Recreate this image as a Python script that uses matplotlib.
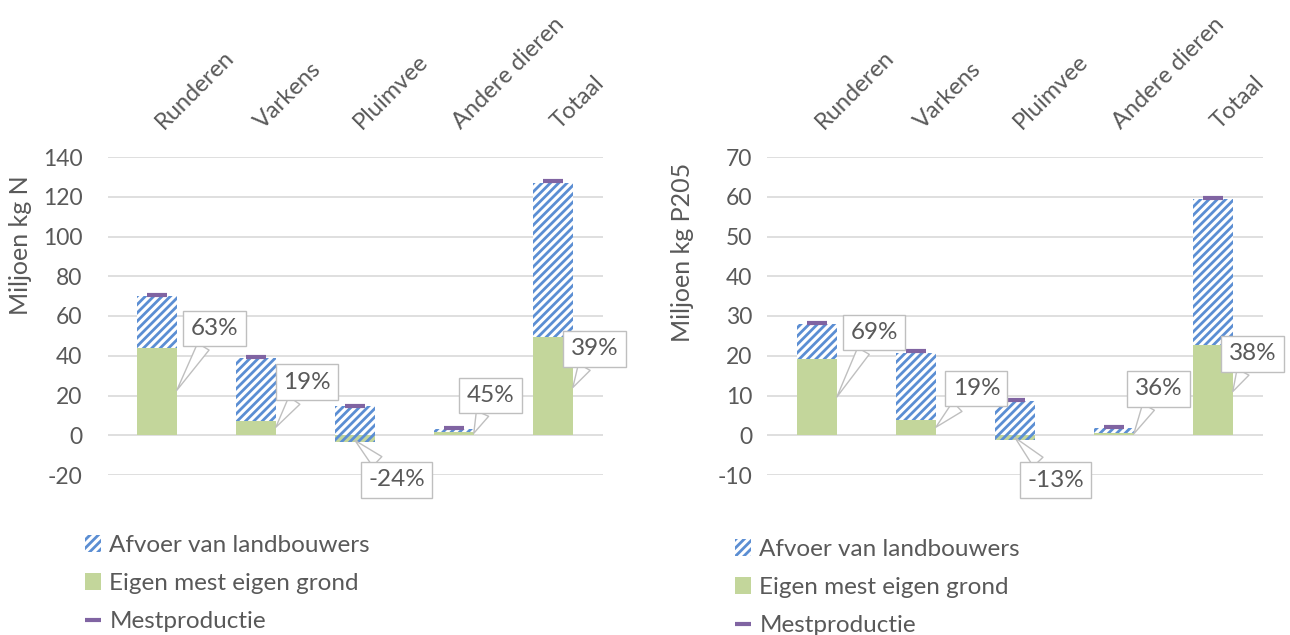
import numpy as np
import matplotlib
matplotlib.use("Agg")
import matplotlib.pyplot as plt
from matplotlib.patches import Patch
from matplotlib.lines import Line2D

plt.rcParams['font.family'] = ['Lato', 'DejaVu Sans']
plt.rcParams['hatch.linewidth'] = 2.0

# ---------------- data ----------------
categories = ["Runderen", "Varkens", "Pluimvee", "Andere dieren", "Totaal"]

# Left panel: Miljoen kg N
n_top = [70.1, 38.9, 14.6, 2.9, 127.1]          # top of hatched bar
n_eigen = [43.9, 7.0, -3.5, 1.4, 49.5]          # Eigen mest eigen grond
n_mest = [70.5, 39.3, 14.9, 3.8, 127.8]         # Mestproductie
n_labels = ["63%", "19%", "-24%", "45%", "39%"]
n_label_pos = [(0.58, 53.8), (1.515, 26.7), (2.42, -22.4), (3.37, 20.1), (4.42, 43.5)]
n_label_tip = [(0.2, 22.6), (1.2, 4.0), (2.0, -2.6), (3.2, 1.0), (4.2, 24.0)]

# Right panel: Miljoen kg P205
p_top = [27.9, 20.7, 8.55, 1.8, 59.4]
p_eigen = [19.1, 3.8, -1.15, 0.65, 22.6]
p_mest = [28.3, 21.1, 8.9, 2.2, 59.8]
p_labels = ["69%", "19%", "-13%", "36%", "38%"]
p_label_pos = [(0.576, 25.8), (1.61, 11.8), (2.41, -11.3), (3.45, 11.7), (4.40, 20.5)]
p_label_tip = [(0.2, 9.6), (1.2, 2.0), (2.0, -0.6), (3.2, 0.35), (4.2, 11.0)]

series_names = ["Afvoer van landbouwers", "Eigen mest eigen grond", "Mestproductie"]

GREEN = "#c3d69b"
BLUE = "#5b8ed3"
PURPLE = "#8064a2"
GRID = "#d9d9d9"
TEXT = "#595959"
BOXEDGE = "#bfbfbf"
HATCH = "////"

W, H = 1290, 635
fig = plt.figure(figsize=(W / 100, H / 100), dpi=100)


def panel(rect, top, eigen, mest, labels, lpos, ltip, ylim, yticks, ylabel,
          ylabel_xy, tickpad, legend_xy):
    ax = fig.add_axes(rect)
    x = np.arange(len(categories))
    top = np.array(top)
    eigen = np.array(eigen)
    bw = 0.404
    # green
    ax.bar(x, eigen, width=bw, color=GREEN, linewidth=0, zorder=2)
    # white background for hatched part
    base = np.maximum(eigen, 0)
    ax.bar(x, top - base, bottom=base, width=bw, color="white",
           linewidth=0, zorder=2)
    # hatched Afvoer
    ax.bar(x, top - eigen, bottom=eigen, width=bw, facecolor="none",
           edgecolor=BLUE, hatch=HATCH, linewidth=0, zorder=3)
    # Mestproductie markers
    ax.plot(x, mest, linestyle="none", marker="_", markersize=14.5,
            markeredgewidth=3, color=PURPLE, zorder=4)

    ax.set_xlim(-0.5, len(categories) - 0.5)
    ax.set_ylim(*ylim)
    ax.set_yticks(yticks)
    ax.set_yticklabels([str(v) for v in yticks])
    ax.tick_params(axis="y", length=0, pad=tickpad, labelsize=16.5,
                   labelcolor=TEXT)
    ax.set_xticks([])
    for s in ax.spines.values():
        s.set_visible(False)
    ax.grid(axis="y", color=GRID, linewidth=1.2, zorder=0)
    ax.set_axisbelow(True)

    for i, c in enumerate(categories):
        ax.annotate(c, xy=(i, 1), xycoords=("data", "axes fraction"),
                    xytext=(7, 27), textcoords="offset pixels", rotation=45,
                    rotation_mode="anchor", ha="left", va="baseline",
                    fontsize=17, color=TEXT)

    for lab, pos, tip in zip(labels, lpos, ltip):
        ax.annotate(lab, xy=tip, xytext=pos, ha="center", va="center",
                    fontsize=17.5, color=TEXT, zorder=6,
                    bbox=dict(boxstyle="square,pad=0.3", fc="white",
                              ec=BOXEDGE, lw=1),
                    arrowprops=dict(arrowstyle="wedge,tail_width=0.55,shrink_factor=0.5",
                                    fc="white", ec=BOXEDGE, lw=1,
                                    shrinkA=0, shrinkB=0))

    fig.text(ylabel_xy[0] / W, 1 - ylabel_xy[1] / H, ylabel, rotation=90,
             ha="center", va="center", fontsize=18, color=TEXT)

    h = [Patch(facecolor="white", edgecolor=BLUE, hatch=HATCH, linewidth=0),
         Patch(facecolor=GREEN, linewidth=0),
         Line2D([], [], linestyle="none", marker="_", markersize=11,
                markeredgewidth=3, color=PURPLE)]
    ax.legend(h, series_names, loc="upper left",
              bbox_to_anchor=(legend_xy[0] / W, 1 - legend_xy[1] / H),
              bbox_transform=fig.transFigure, frameon=False,
              fontsize=17.5, labelcolor=TEXT, borderpad=0,
              borderaxespad=0, handlelength=0.65, handleheight=0.65,
              handletextpad=0.35, labelspacing=0.7)
    return ax


panel([107.5 / W, 160 / H, 495 / W, 318 / H], n_top, n_eigen, n_mest,
      n_labels, n_label_pos, n_label_tip, (-20, 140), list(range(-20, 141, 20)),
      "Miljoen kg N", (21, 245), 18, (85, 535))

panel([767.5 / W, 160 / H, 495 / W, 318 / H], p_top, p_eigen, p_mest,
      p_labels, p_label_pos, p_label_tip, (-10, 70), list(range(-10, 71, 10)),
      "Miljoen kg P205", (682, 252), 11, (735, 539))

fig.savefig("out.png", dpi=100)
